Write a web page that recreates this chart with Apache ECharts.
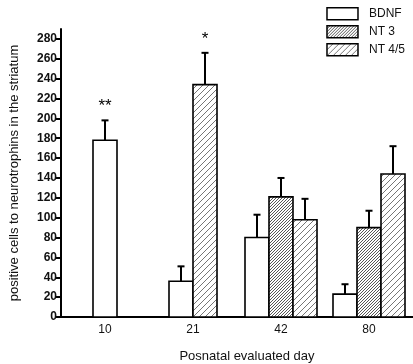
<!DOCTYPE html>
<html>
<head>
<meta charset="utf-8">
<script src="https://cdn.jsdelivr.net/npm/echarts@6/dist/echarts.min.js"></script>
<style>
  html, body { margin: 0; padding: 0; background: #fff; }
  #chart-main { width: 413px; height: 364px; }
</style>
</head>
<body>
<div id="chart-main"></div>
<script>
// data
var days = ['10', '21', '42', '80'];
var bdnf = [178, 36, 80, 23];
var bdnfErr = [20, 15, 23, 10];
var nt3 = [null, null, 121, 90];
var nt3Err = [null, null, 19, 17];
var nt45 = [null, 234, 98, 144];
var nt45Err = [null, 32, 21, 28];
// significance marks: [series index, category index, text]
var signif = [[0, 0, '**'], [2, 1, '*']];
var yTicks = [0, 20, 40, 60, 80, 100, 120, 140, 160, 180, 200, 220, 240, 260, 280];

var font = '"Liberation Sans", Arial, sans-serif';

// hatch fills
function hatch(step, color) {
  var c = document.createElement('canvas');
  c.width = step;
  c.height = step;
  var ctx = c.getContext('2d');
  ctx.fillStyle = '#fff';
  ctx.fillRect(0, 0, step, step);
  ctx.strokeStyle = color;
  ctx.lineWidth = 0.9;
  ctx.beginPath();
  ctx.moveTo(-1, step + 1);
  ctx.lineTo(step + 1, -1);
  ctx.moveTo(-1, 1);
  ctx.lineTo(1, -1);
  ctx.moveTo(step - 1, step + 1);
  ctx.lineTo(step + 1, step - 1);
  ctx.stroke();
  return c;
}

var groups = [
  { name: 'BDNF', values: bdnf, errs: bdnfErr, fill: '#ffffff' },
  { name: 'NT 3', values: nt3, errs: nt3Err, fill: { image: hatch(3, '#444'), repeat: 'repeat' } },
  { name: 'NT 4/5', values: nt45, errs: nt45Err, fill: { image: hatch(6, '#666'), repeat: 'repeat' } }
];

var barW = 24;

function makeRender(si) {
  return function (params, api) {
    var ci = api.value(0);
    var val = api.value(1);
    var err = api.value(2);
    // only the bars present at this day share the slot
    var present = [];
    groups.forEach(function (g, k) {
      if (g.values[ci] != null) present.push(k);
    });
    var pos = present.indexOf(si);
    var base = api.coord([ci, 0]);
    var top = api.coord([ci, val]);
    var errTop = api.coord([ci, val + err]);
    var x0 = base[0] - present.length * barW / 2 + pos * barW;
    var cx = x0 + barW / 2;
    var children = [
      {
        type: 'rect',
        shape: { x: x0, y: top[1], width: barW, height: base[1] - top[1] },
        style: { fill: groups[si].fill, stroke: '#000', lineWidth: 1.6 }
      },
      {
        type: 'line',
        shape: { x1: cx, y1: top[1], x2: cx, y2: errTop[1] },
        style: { stroke: '#000', lineWidth: 2 }
      },
      {
        type: 'line',
        shape: { x1: cx - 3.5, y1: errTop[1], x2: cx + 3.5, y2: errTop[1] },
        style: { stroke: '#000', lineWidth: 2 }
      }
    ];
    signif.forEach(function (s) {
      if (s[0] === si && s[1] === ci) {
        children.push({
          type: 'text',
          style: {
            x: cx, y: errTop[1] - 14, text: s[2], fill: '#000',
            font: '17px ' + font, align: 'center', verticalAlign: 'middle'
          }
        });
      }
    });
    return { type: 'group', children: children };
  };
}

var series = groups.map(function (g, si) {
  var data = [];
  g.values.forEach(function (v, ci) {
    if (v != null) data.push([ci, v, g.errs[ci]]);
  });
  return {
    type: 'custom',
    name: g.name,
    renderItem: makeRender(si),
    itemStyle: { color: g.fill, borderColor: '#000', borderWidth: 1.5 },
    encode: { x: 0, y: 1 },
    data: data
  };
});

var myChart = echarts.init(document.getElementById('chart-main'), null, { renderer: 'canvas' });
var option = {
  animation: false,
  backgroundColor: '#fff',
  textStyle: { fontFamily: font },
  legend: {
    orient: 'vertical',
    right: 3,
    top: 2,
    itemWidth: 31,
    itemHeight: 12,
    itemGap: 4.5,
    icon: 'rect',
    textStyle: { fontSize: 12, color: '#111', fontFamily: font, padding: [0, 0, 0, 6] },
    data: groups.map(function (g) {
      return { name: g.name, itemStyle: { color: g.fill, borderColor: '#000', borderWidth: 1.5 } };
    })
  },
  grid: { left: 61, right: 0, top: 29, bottom: 47, containLabel: false, outerBoundsMode: 'none' },
  xAxis: {
    type: 'category',
    data: days,
    name: 'Posnatal evaluated day',
    nameLocation: 'middle',
    nameGap: 33,
    nameTextStyle: { fontSize: 13, color: '#111', fontFamily: font, padding: [0, 0, 0, 20] },
    axisLine: { lineStyle: { color: '#000', width: 2 } },
    axisTick: { show: false },
    axisLabel: { fontSize: 12, color: '#111', margin: 7, fontFamily: font }
  },
  yAxis: {
    type: 'value',
    min: 0,
    max: 290,
    interval: 10,
    name: 'positive cells to neurotrophins in the striatum',
    nameLocation: 'middle',
    nameGap: 40,
    nameTextStyle: { fontSize: 13, color: '#111', fontFamily: font },
    splitLine: { show: false },
    axisLine: { show: true, lineStyle: { color: '#000', width: 2 } },
    axisTick: { show: true, length: 6, customValues: yTicks, lineStyle: { color: '#000', width: 2 } },
    axisLabel: { fontSize: 12, fontWeight: 'bold', color: '#111', margin: 4, customValues: yTicks, fontFamily: font }
  },
  series: series
};
myChart.setOption(option);
</script>
</body>
</html>
